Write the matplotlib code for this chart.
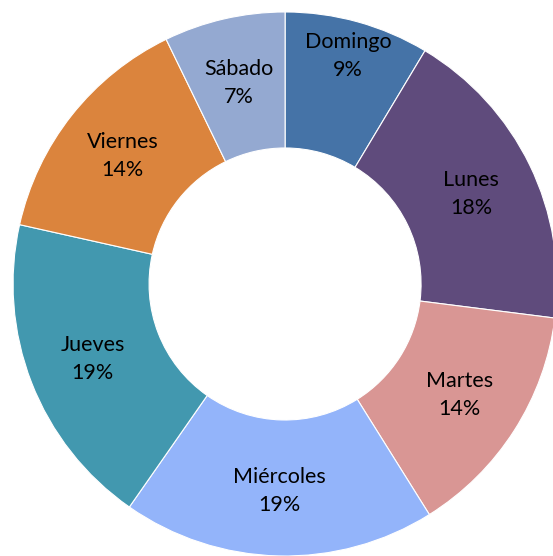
import numpy as np
import matplotlib.pyplot as plt

dias = ['Domingo', 'Lunes', 'Martes', 'Miércoles', 'Jueves', 'Viernes', 'Sábado']
valores = [8.6, 18.4, 14.1, 18.6, 18.8, 14.3, 7.2]
colores = ['#4573A7', '#5F4B7C', '#D99694', '#93B4FA', '#4298AF', '#DB843D', '#94A9D1']

fig = plt.figure(figsize=(5.53, 5.56), dpi=100)
ax = fig.add_axes([0, 0, 1, 1])

wedges, _ = ax.pie(valores, colors=colores, startangle=90, counterclock=False,
                   radius=1.0, wedgeprops=dict(width=0.5, edgecolor='white', linewidth=0.8))

total = sum(valores)
for w, nombre, v in zip(wedges, dias, valores):
    ang = np.deg2rad((w.theta1 + w.theta2) / 2)
    r = 0.87 if nombre == 'Domingo' else 0.76
    x, y = r * np.cos(ang), r * np.sin(ang)
    ax.text(x, y, f'{nombre}\n{v / total * 100:.0f}%', ha='center', va='center',
            fontsize=15.5, family=['Lato', 'DejaVu Sans'], color='black', linespacing=1.5)

ax.set_xlim(-1.048, 0.985)
ax.set_ylim(-1.0, 1.044)
ax.set_aspect('equal')
ax.axis('off')

fig.savefig('out.png', dpi=100)
